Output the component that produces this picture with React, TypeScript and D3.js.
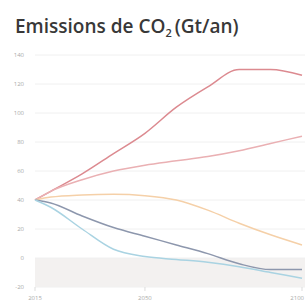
import * as d3 from "d3";
import { useEffect, useRef } from "react";

const years = [2015, 2020, 2030, 2040, 2050, 2060, 2070, 2080, 2090, 2100];
const highEmissions = [40, 46, 58, 72, 86, 104, 118, 130, 130, 126];
const midHighEmissions = [40, 46, 54, 60, 64, 67, 70, 74, 79, 84];
const midEmissions = [40, 42, 43.5, 44, 43, 40, 33, 24, 16, 9];
const lowEmissions = [40, 38, 29, 21, 15, 9, 3, -4, -8, -8];
const veryLowEmissions = [40, 35, 20, 6, 1, -1, -3, -6, -10, -14];
const yTicks = [-20, 0, 20, 40, 60, 80, 100, 120, 140];
const xTicks = [2015, 2050, 2100];

const series = [
    { name: "high", values: highEmissions, color: "#dc8a90" },
    { name: "midHigh", values: midHighEmissions, color: "#eab0b3" },
    { name: "mid", values: midEmissions, color: "#f5d0a8" },
    { name: "low", values: lowEmissions, color: "#8d97ad" },
    { name: "veryLow", values: veryLowEmissions, color: "#a9d3e2" },
];

export default function App() {
    const ref = useRef<SVGSVGElement | null>(null);

    useEffect(() => {
        if (!ref.current) return;
        const svg = d3.select(ref.current);
        svg.selectAll("*").remove();

        const x = d3.scaleLinear().domain([2015, 2100]).range([35, 302]);
        const y = d3.scaleLinear().domain([-20, 140]).range([287, 55]);

        // title
        svg.append("text")
            .attr("x", 15)
            .attr("y", 33)
            .attr("font-family", "Open Sans")
            .attr("font-weight", 600)
            .attr("font-size", 19)
            .attr("fill", "#383838")
            .call((t) => {
                t.append("tspan").text("Emissions de CO");
                t.append("tspan").attr("font-size", 11).attr("dy", 4).text("2");
                t.append("tspan").attr("dy", -4).attr("dx", 3).text("(Gt/an)");
            });

        // negative band
        svg.append("rect")
            .attr("x", x(2015))
            .attr("y", y(0))
            .attr("width", 305 - x(2015))
            .attr("height", y(-20) - y(0))
            .attr("fill", "#f3f1f0");

        // grid
        svg.append("g")
            .selectAll("line")
            .data(yTicks)
            .join("line")
            .attr("x1", x(2015))
            .attr("x2", 305)
            .attr("y1", (d) => y(d))
            .attr("y2", (d) => y(d))
            .attr("stroke", "#f0f0f0")
            .attr("stroke-width", 1);

        svg.append("g")
            .selectAll("text")
            .data(yTicks)
            .join("text")
            .attr("x", 24)
            .attr("y", (d) => y(d) + 2)
            .attr("text-anchor", "end")
            .attr("font-family", "Open Sans")
            .attr("font-size", 6)
            .attr("fill", "#aaa")
            .text((d) => d);

        svg.append("g")
            .selectAll("text")
            .data(xTicks)
            .join("text")
            .attr("x", (d) => (d === 2100 ? 304 : x(d)))
            .attr("y", 300)
            .attr("text-anchor", (d) => (d === 2100 ? "end" : "middle"))
            .attr("font-family", "Open Sans")
            .attr("font-size", 6)
            .attr("fill", "#aaa")
            .text((d) => d);

        svg.append("g")
            .selectAll("line")
            .data(xTicks)
            .join("line")
            .attr("x1", (d) => x(d))
            .attr("x2", (d) => x(d))
            .attr("y1", y(-20))
            .attr("y2", y(-20) + 4)
            .attr("stroke", "#ddd");

        const line = d3.line<number>()
            .x((_, i) => x(years[i]))
            .y((d) => y(d))
            .curve(d3.curveMonotoneX);

        svg.append("g")
            .selectAll("path")
            .data(series)
            .join("path")
            .attr("d", (s) => line(s.values))
            .attr("fill", "none")
            .attr("stroke", (s) => s.color)
            .attr("stroke-width", 1.5);
    }, []);

    return (
        <div style={{ position: "absolute", left: 0, top: 0, width: 305, height: 305, background: "#fff" }}>
            <svg ref={ref} width={305} height={305}></svg>
        </div>
    );
}
